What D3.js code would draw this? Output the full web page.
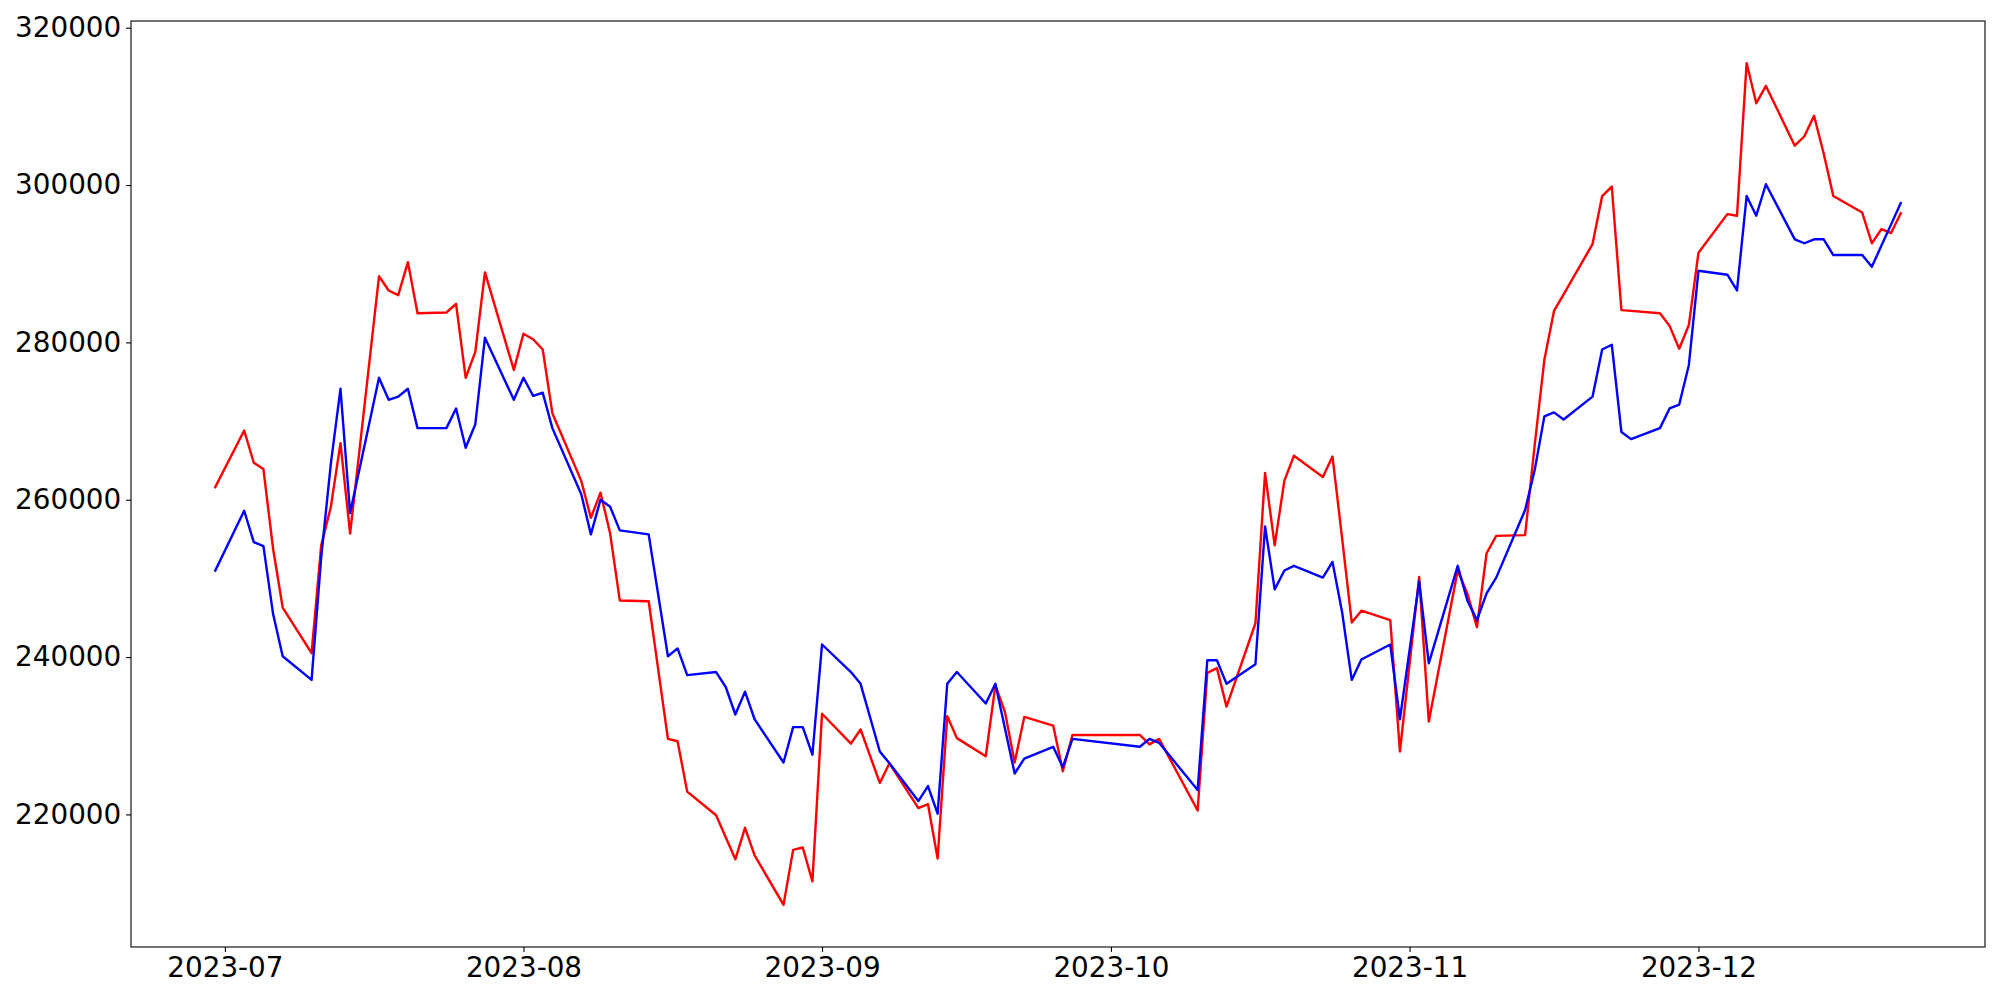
<!DOCTYPE html>
<meta charset="utf-8">
<style>
  body { margin: 0; background: #fff; }
  .axis text { font-family: "DejaVu Sans", sans-serif; font-size: 27.8px; fill: #000; }
  .axis path { display: none; }
  .axis line { stroke: #000; stroke-width: 1.1px; }
  .series { fill: none; stroke-width: 2.4px; stroke-linejoin: round; stroke-linecap: square; }
</style>
<svg width="2000" height="1000"></svg>
<script src="https://d3js.org/d3.v7.min.js"></script>
<script>
  var dates = ["2023-06-30",
    "2023-07-03", "2023-07-04", "2023-07-05", "2023-07-06", "2023-07-07",
    "2023-07-10", "2023-07-11", "2023-07-12", "2023-07-13", "2023-07-14",
    "2023-07-17", "2023-07-18", "2023-07-19", "2023-07-20", "2023-07-21",
    "2023-07-24", "2023-07-25", "2023-07-26", "2023-07-27", "2023-07-28",
    "2023-07-31", "2023-08-01", "2023-08-02", "2023-08-03", "2023-08-04",
    "2023-08-07", "2023-08-08", "2023-08-09", "2023-08-10", "2023-08-11",
    "2023-08-14", "2023-08-16", "2023-08-17", "2023-08-18",
    "2023-08-21", "2023-08-22", "2023-08-23", "2023-08-24", "2023-08-25",
    "2023-08-28", "2023-08-29", "2023-08-30", "2023-08-31", "2023-09-01",
    "2023-09-04", "2023-09-05", "2023-09-07", "2023-09-08",
    "2023-09-11", "2023-09-12", "2023-09-13", "2023-09-14", "2023-09-15",
    "2023-09-18", "2023-09-19", "2023-09-20", "2023-09-21", "2023-09-22",
    "2023-09-25", "2023-09-26", "2023-09-27",
    "2023-10-04", "2023-10-05", "2023-10-06",
    "2023-10-10", "2023-10-11", "2023-10-12", "2023-10-13",
    "2023-10-16", "2023-10-17", "2023-10-18", "2023-10-19", "2023-10-20",
    "2023-10-23", "2023-10-24", "2023-10-25", "2023-10-26", "2023-10-27",
    "2023-10-30", "2023-10-31", "2023-11-02", "2023-11-03",
    "2023-11-06", "2023-11-07", "2023-11-08", "2023-11-09", "2023-11-10",
    "2023-11-13", "2023-11-14", "2023-11-15", "2023-11-16", "2023-11-17",
    "2023-11-20", "2023-11-21", "2023-11-22", "2023-11-23", "2023-11-24",
    "2023-11-27", "2023-11-28", "2023-11-29", "2023-11-30", "2023-12-01",
    "2023-12-04", "2023-12-05", "2023-12-06", "2023-12-07", "2023-12-08",
    "2023-12-11", "2023-12-12", "2023-12-13", "2023-12-14", "2023-12-15",
    "2023-12-18", "2023-12-19", "2023-12-20", "2023-12-21", "2023-12-22"];

  var redValues = [261600,
    268800, 264700, 263900, 253800, 246300,
    240500, 254200, 259100, 267200, 255700,
    288400, 286600, 286000, 290200, 283700,
    283800, 284900, 275500, 278800, 288900,
    276500, 281100, 280400, 279100, 271000,
    262400, 257700, 260900, 255700, 247200,
    247100, 229600, 229300, 222900,
    219900, 217100, 214300, 218300, 214800,
    208500, 215500, 215800, 211500, 232800,
    229000, 230800, 224000, 226500,
    220800, 221300, 214400, 232500, 229700,
    227400, 236400, 233000, 226600, 232400,
    231300, 225500, 230100,
    230100, 228900, 229600,
    220500, 238000, 238600, 233700,
    244300, 263400, 254200, 262400, 265600,
    262900, 265500, 255100, 244400, 245900,
    244700, 228000, 250200, 231800,
    251000, 248100, 243800, 253200, 255400,
    255500, 267000, 277800, 284000, 286100,
    292500, 298600, 299800, 284100, 284000,
    283700, 282100, 279200, 282200, 291400,
    296300, 296100, 315500, 310400, 312600,
    305000, 306200, 308800, 304000, 298600,
    296500, 292600, 294400, 293900, 296400];

  var blueValues = [251000,
    258600, 254600, 254100, 245500, 240100,
    237100, 252700, 264600, 274100, 258300,
    275500, 272700, 273100, 274100, 269100,
    269100, 271600, 266600, 269600, 280600,
    272700, 275500, 273200, 273600, 269100,
    260700, 255600, 260000, 259100, 256100,
    255600, 240100, 241100, 237700,
    238100, 236200, 232700, 235600, 232100,
    226600, 231100, 231100, 227600, 241600,
    238100, 236600, 228000, 226500,
    221700, 223600, 220100, 236600, 238100,
    234100, 236600, 230900, 225200, 227100,
    228600, 226000, 229600,
    228600, 229600, 229100,
    223100, 239600, 239600, 236600,
    239100, 256600, 248600, 251000, 251600,
    250100, 252100, 245700, 237100, 239700,
    241600, 232100, 249600, 239200,
    251600, 247200, 244700, 248100, 250100,
    258700, 263800, 270600, 271100, 270200,
    273100, 279100, 279700, 268600, 267700,
    269100, 271600, 272100, 277100, 289100,
    288600, 286600, 298600, 296100, 300100,
    293100, 292600, 293100, 293100, 291100,
    291100, 289600, 292300, 295000, 297700];

  var monthTicks = ["2023-07-01", "2023-08-01", "2023-09-01", "2023-10-01", "2023-11-01", "2023-12-01"];
  var yTicks = [220000, 240000, 260000, 280000, 300000, 320000];

  var svg = d3.select("svg");
  var margin = { left: 131, top: 21, right: 15, bottom: 53 };
  var width = 2000 - margin.left - margin.right,
    height = 1000 - margin.top - margin.bottom;

  var parse = d3.timeParse("%Y-%m-%d");
  var t = dates.map(parse);

  // matplotlib style 5% margins on both axes
  var tExt = d3.extent(t, function(d) { return +d; });
  var tPad = (tExt[1] - tExt[0]) * 0.05;
  var allV = redValues.concat(blueValues);
  var vExt = d3.extent(allV);
  var vPad = (vExt[1] - vExt[0]) * 0.05;

  var x = d3.scaleTime()
    .domain([new Date(tExt[0] - tPad), new Date(tExt[1] + tPad)])
    .range([0, width]);
  var y = d3.scaleLinear()
    .domain([vExt[0] - vPad, vExt[1] + vPad])
    .range([height, 0]);

  var g = svg.append("g").attr("transform", "translate(" + margin.left + "," + margin.top + ")");

  var line = d3.line()
    .x(function(d) { return x(d[0]); })
    .y(function(d) { return y(d[1]); });

  g.append("path")
    .attr("class", "series")
    .attr("stroke", "red")
    .attr("d", line(t.map(function(d, i) { return [d, redValues[i]]; })));

  g.append("path")
    .attr("class", "series")
    .attr("stroke", "blue")
    .attr("d", line(t.map(function(d, i) { return [d, blueValues[i]]; })));

  g.append("g")
    .attr("class", "axis")
    .attr("transform", "translate(0," + height + ")")
    .call(d3.axisBottom(x)
      .tickValues(monthTicks.map(parse))
      .tickFormat(d3.timeFormat("%Y-%m"))
      .tickSize(4.9)
      .tickPadding(4.9));

  g.append("g")
    .attr("class", "axis")
    .call(d3.axisLeft(y)
      .tickValues(yTicks)
      .tickFormat(d3.format("d"))
      .tickSize(4.9)
      .tickPadding(4.9));

  g.append("rect")
    .attr("width", width)
    .attr("height", height)
    .attr("fill", "none")
    .attr("stroke", "#000")
    .attr("stroke-width", 1.1);
</script>
